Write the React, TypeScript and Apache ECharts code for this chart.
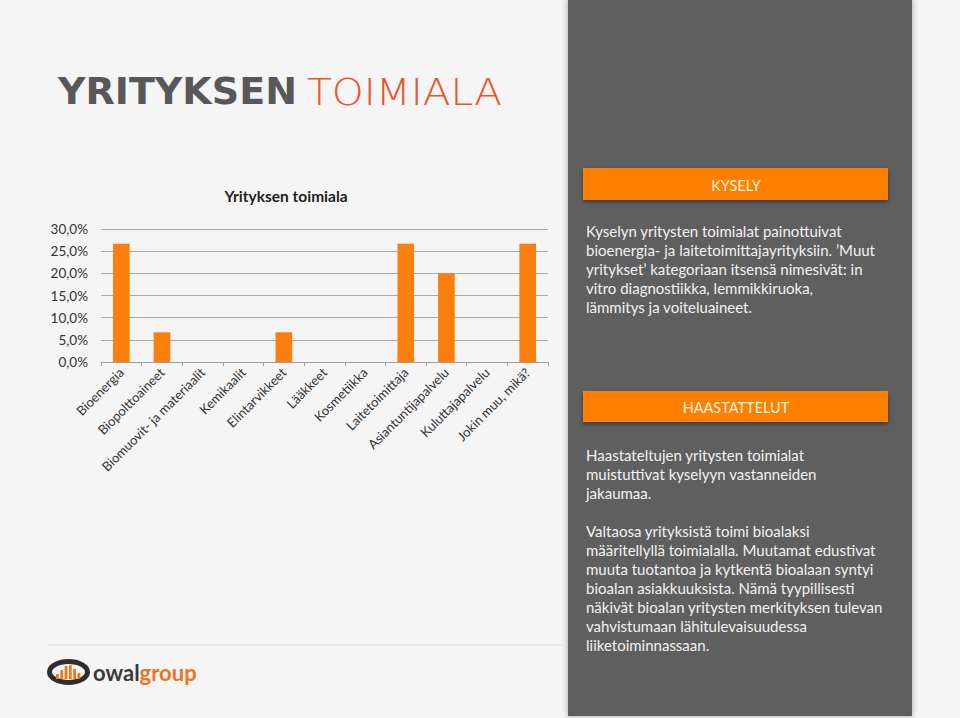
import React, { useEffect, useRef } from "react";
import * as echarts from "echarts";

const categories = [
  "Bioenergia",
  "Biopolttoaineet",
  "Biomuovit- ja materiaalit",
  "Kemikaalit",
  "Elintarvikkeet",
  "Lääkkeet",
  "Kosmetiikka",
  "Laitetoimittaja",
  "Asiantuntijapalvelu",
  "Kuluttajapalvelu",
  "Jokin muu, mikä?",
];
const shares = [26.7, 6.7, 0, 0, 6.7, 0, 0, 26.7, 20.0, 0, 26.7];
const yMin = 0;
const yMax = 30;
const yInterval = 5;

const chartTitle = "Yrityksen toimiala";
const titleDark = "YRITYKSEN";
const titleOrange = "TOIMIALA";
const header1 = "KYSELY";
const header2 = "HAASTATTELUT";
const kyselyLines = [
  "Kyselyn yritysten toimialat painottuivat",
  "bioenergia- ja laitetoimittajayrityksiin. ’Muut",
  "yritykset’ kategoriaan itsensä nimesivät: in",
  "vitro diagnostiikka, lemmikkiruoka,",
  "lämmitys ja voiteluaineet.",
];
const haastatteluLines = [
  "Haastateltujen yritysten toimialat",
  "muistuttivat kyselyyn vastanneiden",
  "jakaumaa.",
];
const valtaosaLines = [
  "Valtaosa yrityksistä toimi bioalaksi",
  "määritellyllä toimialalla. Muutamat edustivat",
  "muuta tuotantoa ja kytkentä bioalaan syntyi",
  "bioalan asiakkuuksista. Nämä tyypillisesti",
  "näkivät bioalan yritysten merkityksen tulevan",
  "vahvistumaan lähitulevaisuudessa",
  "liiketoiminnassaan.",
];
const logoBarHeights = [5, 9, 13, 14, 10, 6];

function measure(text: string, font: string): number {
  const c = document.createElement("canvas");
  const ctx = c.getContext("2d");
  if (!ctx) return 100;
  ctx.font = font;
  return ctx.measureText(text).width;
}

export default function App() {
  const ref = useRef<HTMLDivElement>(null);
  useEffect(() => {
    if (!ref.current) return;
    const chart = echarts.init(ref.current, null, { renderer: "svg" });
    const darkFont = "bold 38px 'DejaVu Sans'";
    const lightFont = "200 38px 'DejaVu Sans'";
    const darkScale = 239 / measure(titleDark, darkFont);
    const lightScale = 195 / measure(titleOrange, lightFont);
    const orange = "#fb7f0f";
    const panelText = "#f2f2f2";
    const textFont = "Lato";
    const bodySize = 15;

    const logoBars = logoBarHeights.map((h, i) => ({
      type: "rect",
      shape: { x: 56 + i * 4.3, y: 679 - h, width: 2.8, height: h },
      style: { fill: "#f07a1a" },
    }));

    chart.setOption({
      animation: false,
      backgroundColor: "#f5f5f5",
      grid: { left: 101, right: 412, top: 229, bottom: 356 },
      xAxis: {
        type: "category",
        data: categories,
        axisLine: { lineStyle: { color: "#a0a0a0" } },
        axisTick: { show: true, length: 4, lineStyle: { color: "#a0a0a0" } },
        axisLabel: {
          rotate: 45,
          interval: 0,
          fontSize: 13,
          color: "#333",
          fontFamily: textFont,
          margin: 8,
        },
      },
      yAxis: {
        type: "value",
        min: yMin,
        max: yMax,
        interval: yInterval,
        axisLine: { show: false },
        axisTick: { show: false },
        splitLine: { lineStyle: { color: "#aaaaaa" } },
        axisLabel: {
          fontSize: 13.5,
          color: "#333",
          fontFamily: textFont,
          margin: 13,
          formatter: (v: number) => v.toFixed(1).replace(".", ",") + "%",
        },
      },
      series: [
        {
          type: "bar",
          data: shares,
          barWidth: "41%",
          itemStyle: { color: orange },
        },
      ],
      graphic: [
        {
          type: "text",
          x: 58,
          y: 91,
          scaleX: darkScale,
          style: {
            text: titleDark,
            font: darkFont,
            fill: "#58585a",
            verticalAlign: "middle",
          },
        },
        {
          type: "text",
          x: 307,
          y: 91,
          scaleX: lightScale,
          style: {
            text: titleOrange,
            font: lightFont,
            fill: "#e8552a",
            verticalAlign: "middle",
          },
        },
        {
          type: "text",
          x: 286,
          y: 196,
          style: {
            text: chartTitle,
            fontFamily: textFont,
            fontWeight: "bold",
            fontSize: 15.5,
            fill: "#222",
            align: "center",
            verticalAlign: "middle",
          },
        },
        {
          type: "line",
          shape: { x1: 48, y1: 645, x2: 562, y2: 645 },
          style: { stroke: "#dcdcdc", lineWidth: 1 },
        },
        {
          type: "rect",
          shape: { x: 568, y: -2, width: 344, height: 718 },
          style: {
            fill: "#5e5e5e",
            shadowBlur: 6,
            shadowColor: "rgba(0,0,0,0.35)",
          },
        },
        {
          type: "rect",
          shape: { x: 583, y: 168, width: 305, height: 32 },
          style: {
            fill: "#ff8000",
            shadowBlur: 4,
            shadowOffsetY: 2,
            shadowColor: "rgba(0,0,0,0.4)",
          },
        },
        {
          type: "text",
          x: 736,
          y: 185,
          style: {
            text: header1,
            fontFamily: textFont,
            fontSize: 14.5,
            fill: "#fff3e6",
            align: "center",
            verticalAlign: "middle",
          },
        },
        {
          type: "text",
          x: 586,
          y: 221.5,
          style: {
            text: kyselyLines.join("\n"),
            fontFamily: textFont,
            fontSize: bodySize,
            lineHeight: 19,
            fill: panelText,
            verticalAlign: "top",
          },
        },
        {
          type: "rect",
          shape: { x: 583, y: 391, width: 305, height: 31 },
          style: {
            fill: "#ff8000",
            shadowBlur: 4,
            shadowOffsetY: 2,
            shadowColor: "rgba(0,0,0,0.4)",
          },
        },
        {
          type: "text",
          x: 736,
          y: 407,
          style: {
            text: header2,
            fontFamily: textFont,
            fontSize: 14.5,
            fill: "#fff3e6",
            align: "center",
            verticalAlign: "middle",
          },
        },
        {
          type: "text",
          x: 586,
          y: 445.5,
          style: {
            text: haastatteluLines.join("\n"),
            fontFamily: textFont,
            fontSize: bodySize,
            lineHeight: 19,
            fill: panelText,
            verticalAlign: "top",
          },
        },
        {
          type: "text",
          x: 586,
          y: 521.5,
          style: {
            text: valtaosaLines.join("\n"),
            fontFamily: textFont,
            fontSize: bodySize,
            lineHeight: 19,
            fill: panelText,
            verticalAlign: "top",
          },
        },
        {
          type: "ellipse",
          shape: { cx: 68.5, cy: 672, rx: 19, ry: 10.5 },
          style: { fill: "none", stroke: "#2e2e2e", lineWidth: 5 },
        },
        ...logoBars,
        {
          type: "text",
          x: 93,
          y: 672,
          style: {
            text: "{a|owal}{b|group}",
            verticalAlign: "middle",
            rich: {
              a: {
                fontFamily: textFont,
                fontWeight: "bold",
                fontSize: 22,
                fill: "#3a3a3a",
              },
              b: {
                fontFamily: textFont,
                fontWeight: "bold",
                fontSize: 22,
                fill: "#ef7422",
              },
            },
          },
        },
      ],
    });
    return () => chart.dispose();
  }, []);
  return (
    <div
      ref={ref}
      style={{ position: "fixed", left: 0, top: 0, width: 960, height: 718 }}
    />
  );
}
